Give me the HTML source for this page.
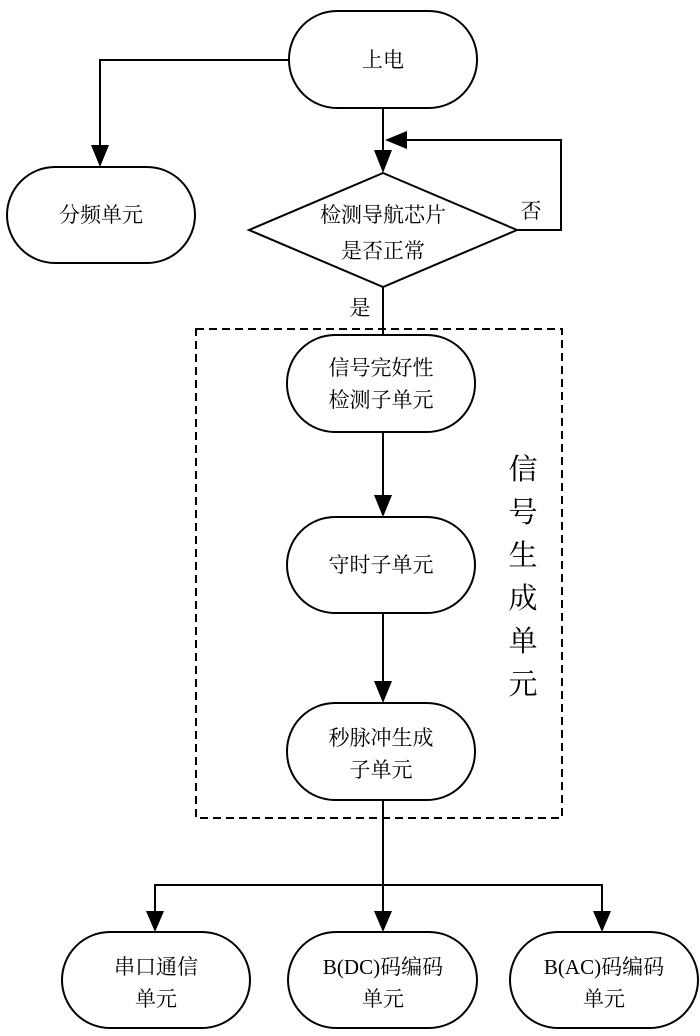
<!DOCTYPE html>
<html><head><meta charset="utf-8"><style>
html,body{margin:0;padding:0;background:#fff;}
svg{display:block;}
text{font-family:"Liberation Serif","Noto Serif CJK SC","Noto Sans CJK SC",serif;fill:#000;}
</style></head><body>
<svg width="700" height="1036" viewBox="0 0 700 1036" xmlns="http://www.w3.org/2000/svg">
<g fill="none" stroke="#000" stroke-width="2">
<!-- terminals -->
<rect x="289" y="11" width="188" height="97" rx="48" ry="48"/>
<rect x="7" y="167" width="188" height="96" rx="48" ry="48"/>
<polygon points="383,173 517,230 383,287 249,230"/>
<rect x="287" y="335" width="188" height="97" rx="48" ry="48"/>
<rect x="287" y="517" width="188" height="96" rx="48" ry="48"/>
<rect x="287" y="703" width="188" height="97" rx="48" ry="48"/>
<rect x="62" y="932" width="188" height="96" rx="48" ry="48"/>
<rect x="288" y="932" width="189" height="96" rx="48" ry="48"/>
<rect x="510" y="932" width="188" height="96" rx="48" ry="48"/>
<!-- dashed box -->
<rect x="196" y="329" width="366" height="489" stroke-dasharray="8,5"/>
<!-- connectors -->
<polyline points="289,60 100,60 100,150"/>
<line x1="383" y1="108" x2="383" y2="155"/>
<polyline points="517,230 561,230 561,140 400,140"/>
<line x1="383" y1="287" x2="383" y2="335"/>
<line x1="383" y1="432" x2="383" y2="498"/>
<line x1="383" y1="613" x2="383" y2="684"/>
<line x1="383" y1="800" x2="383" y2="885"/>
<polyline points="155,915 155,885 602,885 602,915"/>
<line x1="383" y1="885" x2="383" y2="915"/>
</g>
<g fill="#000">
<polygon points="91,145 109,145 100,167"/>
<polygon points="374,150 392,150 383,173"/>
<polygon points="385,140 407,131 407,149"/>
<polygon points="374,495 392,495 383,517"/>
<polygon points="374,681 392,681 383,703"/>
<polygon points="146,911 164,911 155,932"/>
<polygon points="374,911 392,911 383,932"/>
<polygon points="593,911 611,911 602,932"/>
</g>
<g font-size="21" text-anchor="middle">
<text x="383" y="67">上电</text>
<text x="101" y="222">分频单元</text>
<text x="383" y="222">检测导航芯片</text>
<text x="383" y="258">是否正常</text>
<text x="531" y="218">否</text>
<text x="360" y="315">是</text>
<text x="381" y="375">信号完好性</text>
<text x="381" y="407">检测子单元</text>
<text x="381" y="572">守时子单元</text>
<text x="381" y="745">秒脉冲生成</text>
<text x="381" y="777">子单元</text>
<text x="156" y="974">串口通信</text>
<text x="156" y="1006">单元</text>
<text x="383" y="974">B(DC)码编码</text>
<text x="383" y="1006">单元</text>
<text x="604" y="974">B(AC)码编码</text>
<text x="604" y="1006">单元</text>
</g>
<g font-size="29" text-anchor="middle">
<text x="523" y="479">信</text>
<text x="523" y="522">号</text>
<text x="523" y="565">生</text>
<text x="523" y="608">成</text>
<text x="523" y="651">单</text>
<text x="523" y="694">元</text>
</g>
</svg>
</body></html>
